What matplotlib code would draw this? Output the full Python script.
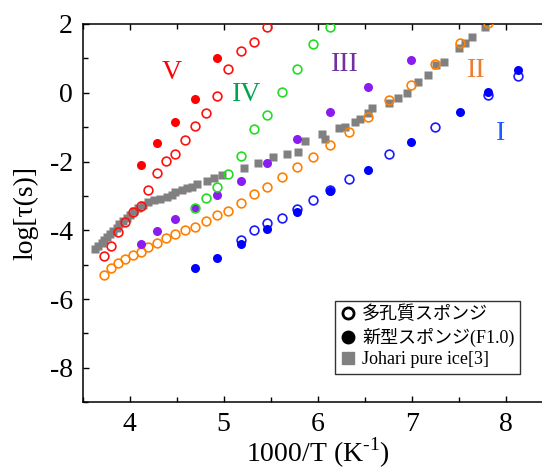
import matplotlib
matplotlib.use("Agg")
import matplotlib.pyplot as plt
from matplotlib.lines import Line2D
from matplotlib.ticker import MultipleLocator

# ---- data (x = 1000/T, y = log tau) ----
x_V_open = [3.73, 3.80, 3.88, 3.95, 4.03, 4.12, 4.20, 4.29, 4.39, 4.48, 4.59, 4.70, 4.81, 4.93, 5.05, 5.18, 5.32, 5.46]
y_V_open = [-4.76, -4.47, -4.06, -3.76, -3.47, -3.28, -2.83, -2.33, -1.98, -1.78, -1.38, -0.98, -0.58, -0.08, 0.68, 1.21, 1.48, 1.92]
x_V_new = [4.12, 4.29, 4.48, 4.70, 4.93]
y_V_new = [-2.11, -1.47, -0.86, -0.17, 1.02]

x_IV_open = [4.70, 4.81, 4.93, 5.05, 5.18, 5.32, 5.46, 5.62, 5.78, 5.95, 6.13]
y_IV_open = [-3.36, -3.06, -2.75, -2.36, -1.85, -1.05, -0.64, 0.01, 0.69, 1.41, 1.90]

x_III_new = [4.12, 4.29, 4.48, 4.70, 4.93, 5.18, 5.46, 5.78, 6.13, 6.54, 6.99]
y_III_new = [-4.40, -4.02, -3.67, -3.36, -2.97, -2.58, -2.04, -1.35, -0.56, 0.18, 0.95]

x_II_open = [3.73, 3.80, 3.88, 3.95, 4.03, 4.12, 4.20, 4.29, 4.39, 4.48, 4.59, 4.70, 4.81, 4.93, 5.05,
             5.18, 5.32, 5.46, 5.62, 5.78, 5.95, 6.13, 6.33, 6.54, 6.76, 6.99, 7.25, 7.52, 7.81]
y_II_open = [-5.30, -5.10, -4.96, -4.84, -4.72, -4.62, -4.49, -4.36, -4.23, -4.11, -3.99, -3.89, -3.73, -3.55, -3.43,
             -3.20, -2.94, -2.75, -2.46, -2.17, -1.86, -1.52, -1.13, -0.70, -0.21, 0.23, 0.84, 1.44, 2.02]

x_I_open = [5.18, 5.32, 5.46, 5.62, 5.78, 5.95, 6.13, 6.33, 6.76, 7.25, 7.81, 8.13]
y_I_open = [-4.28, -3.99, -3.78, -3.63, -3.39, -3.12, -2.83, -2.52, -1.79, -0.99, -0.06, 0.49]
x_I_new = [4.70, 4.93, 5.18, 5.46, 5.78, 6.13, 6.54, 6.99, 7.52, 7.81, 8.13]
y_I_new = [-5.10, -4.80, -4.40, -3.97, -3.47, -2.87, -2.24, -1.44, -0.55, 0.02, 0.66]

x_ice = [3.63, 3.665, 3.70, 3.73, 3.76, 3.79, 3.825, 3.86, 3.89, 3.93, 3.97, 4.005, 4.05, 4.09, 4.14, 4.20,
         4.26, 4.32, 4.395, 4.45, 4.485, 4.555, 4.61, 4.66, 4.715, 4.82, 4.90, 4.98, 5.22, 5.37, 5.52, 5.67,
         5.79, 5.87, 6.045, 6.08, 6.23, 6.29, 6.40, 6.45, 6.54, 6.575, 6.76, 6.86, 6.95, 7.07, 7.175, 7.265,
         7.35, 7.51, 7.565, 7.64, 7.78]
y_ice = [-4.54, -4.45, -4.37, -4.28, -4.19, -4.10, -4.02, -3.92, -3.81, -3.73, -3.63, -3.54, -3.44, -3.35, -3.25, -3.17,
         -3.13, -3.09, -3.02, -2.96, -2.90, -2.83, -2.78, -2.73, -2.66, -2.56, -2.49, -2.39, -2.19, -2.05, -1.88, -1.79,
         -1.71, -1.39, -1.21, -1.34, -1.02, -0.99, -0.84, -0.77, -0.60, -0.44, -0.29, -0.16, 0.00, 0.32, 0.52, 0.81,
         0.90, 1.29, 1.44, 1.63, 1.92]

# region labels
region_names = ["V", "IV", "III", "II", "I"]
region_x = [4.45, 5.24, 6.29, 7.69, 7.95]
region_y = [0.60, -0.06, 0.81, 0.64, -1.18]
region_colors = ["#ff0000", "#00a550", "#7030a0", "#ed7d31", "#1a5cff"]

plt.rcParams['font.family'] = ['Liberation Serif', 'Noto Sans CJK JP']
plt.rcParams['axes.unicode_minus'] = False
plt.rcParams['mathtext.fontset'] = 'custom'
plt.rcParams['mathtext.rm'] = 'Liberation Serif'

fig = plt.figure(figsize=(5.42, 4.71), dpi=100)
# the right end of the original axes is cut off by the picture
ax = fig.add_axes([0.1526, 0.1459, 0.8668, 0.8032])

ms_o = 6.3
ms_f = 6.5
mew = 1.2
gray = "#808080"

ax.plot(x_ice, y_ice, 's', color=gray, ms=6.2, mec='none', zorder=2)

ax.plot(x_II_open, y_II_open, 'o', mfc='none', mec='#ff8000', ms=ms_o, mew=mew, zorder=3)
ax.plot(x_I_open, y_I_open, 'o', mfc='none', mec='#1a1aff', ms=ms_o, mew=mew, zorder=3)
ax.plot(x_I_new, y_I_new, 'o', color='#0000ff', ms=ms_f, mec='none', zorder=4)
ax.plot(x_III_new, y_III_new, 'o', color='#8a1cf0', ms=ms_f, mec='none', zorder=4)
ax.plot(x_IV_open, y_IV_open, 'o', mfc='none', mec='#22dd22', ms=ms_o, mew=mew, zorder=5)
ax.plot(x_V_open, y_V_open, 'o', mfc='none', mec='#ff1010', ms=ms_o, mew=mew, zorder=3)
ax.plot(x_V_new, y_V_new, 'o', color='#ff0000', ms=ms_f, mec='none', zorder=4)

for name, tx, ty, c in zip(region_names, region_x, region_y, region_colors):
    ax.text(tx, ty, name, color=c, fontsize=20, ha='center', va='center')

ax.set_xlim(3.5, 8.5)
ax.set_ylim(-9, 2)
ax.xaxis.set_major_locator(MultipleLocator(1))
ax.xaxis.set_minor_locator(MultipleLocator(0.5))
ax.yaxis.set_major_locator(MultipleLocator(2))
ax.yaxis.set_minor_locator(MultipleLocator(1))
ax.tick_params(which='both', direction='in', top=True, right=True, width=1.0)
ax.tick_params(which='major', length=4, labelsize=20, pad=7)
ax.tick_params(which='minor', length=3.5)
for s in ax.spines.values():
    s.set_linewidth(1.1)

ax.set_xlabel(r'1000/T (K$^{\text{-}1}$)', fontsize=20, labelpad=-1)
ax.set_ylabel('log[τ(s)]', fontsize=20, labelpad=8)

handles = [
    Line2D([], [], ls='none', marker='o', mfc='white', mec='black', mew=2.0, ms=8),
    Line2D([], [], ls='none', marker='o', color='black', ms=9),
    Line2D([], [], ls='none', marker='s', color=gray, ms=8),
]
labels = ['多孔質スポンジ', '新型スポンジ(F1.0)', 'Johari pure ice[3]']
leg = ax.legend(handles, labels, loc='lower right', bbox_to_anchor=(0.931, 0.075),
                fontsize=13, frameon=True, fancybox=False, edgecolor='black',
                handlelength=0.8, handletextpad=0.4, labelspacing=0.25,
                borderpad=0.3, borderaxespad=0)
leg.get_frame().set_linewidth(1.0)

fig.savefig('out.png', dpi=100)
